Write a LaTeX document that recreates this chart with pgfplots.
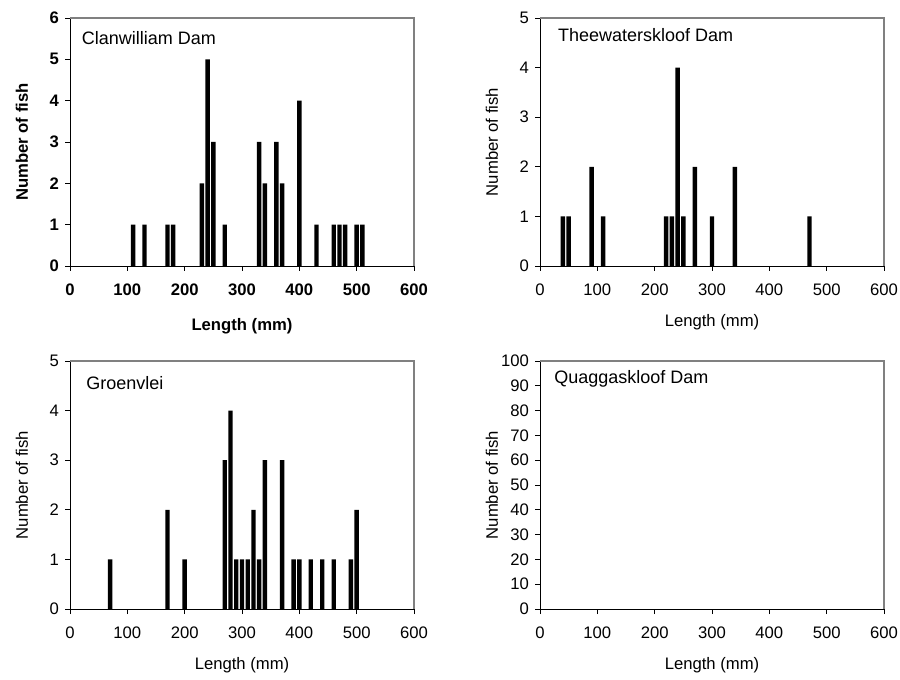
\documentclass[border=0pt]{standalone}
\usepackage{pgfplots}
\pgfplotsset{compat=1.18}
\usepackage{fontspec}
\setmainfont{Liberation Sans}
\definecolor{frame}{RGB}{128,128,128}
\tikzset{
  pname/.style={anchor=west, inner sep=0pt, font=\fontsize{13.5}{15}\selectfont},
  bars/.style={fill=black, draw=none},
}
\pgfplotsset{
  panel/.style={
    scale only axis, width=258pt, height=186pt,
    xmin=0, xmax=600, xtick={0,100,...,600}, ymin=0,
    axis lines=left, axis line style={-, black},
    tick align=outside, major tick length=3.75pt,
    tick style={black, line width=0.6pt},
    /pgf/number format/assume math mode=true,
    ticklabel style={font=\fontsize{12.5}{14}\selectfont},
    xticklabel style={yshift=-6pt},
    yticklabel style={xshift=-1pt},
    ybar, bar width=3.3pt,
    clip=false,
  },
}
\newcommand{\frameTR}{\draw[frame, line width=0.8pt] (rel axis cs:0,1) -- (rel axis cs:1,1) -- (rel axis cs:1,0);}
\begin{document}
\begin{tikzpicture}[x=1pt,y=1pt]
\path[use as bounding box] (0,0) rectangle (675,-510);

% Top left: Clanwilliam Dam
\begin{axis}[panel, at={(52.5pt,-199.5pt)}, anchor=south west,
  ymax=6, ytick={0,...,6},
  ticklabel style={font=\fontsize{12.5}{14}\selectfont\bfseries}]
\addplot[bars] coordinates {(110,1) (130,1) (170,1) (180,1) (230,2) (240,5) (250,3) (270,1) (330,3) (340,2) (360,3) (370,2) (400,4) (430,1) (460,1) (470,1) (480,1) (500,1) (510,1)};
\frameTR
\node[pname] at (rel axis cs:0.034,0.919) {Clanwilliam Dam};
\end{axis}

% Top right: Theewaterskloof Dam
\begin{axis}[panel, at={(405pt,-199.5pt)}, anchor=south west,
  ymax=5, ytick={0,...,5}]
\addplot[bars] coordinates {(40,1) (50,1) (90,2) (110,1) (220,1) (230,1) (240,4) (250,1) (270,2) (300,1) (340,2) (470,1)};
\frameTR
\node[pname] at (rel axis cs:0.052,0.931) {Theewaterskloof Dam};
\end{axis}

% Bottom left: Groenvlei
\begin{axis}[panel, at={(52.5pt,-456.75pt)}, anchor=south west,
  ymax=5, ytick={0,...,5}]
\addplot[bars] coordinates {(70,1) (170,2) (200,1) (270,3) (280,4) (290,1) (300,1) (310,1) (320,2) (330,1) (340,3) (370,3) (390,1) (400,1) (420,1) (440,1) (460,1) (490,1) (500,2)};
\frameTR
\node[pname] at (rel axis cs:0.047,0.911) {Groenvlei};
\end{axis}

% Bottom right: Quaggaskloof Dam
\begin{axis}[panel, at={(405pt,-456.75pt)}, anchor=south west,
  ymax=100, ytick={0,10,...,100}]
\frameTR
\node[pname] at (rel axis cs:0.041,0.927) {Quaggaskloof Dam};
\end{axis}

% Axis labels
\node[rotate=90, font=\fontsize{12.5}{14}\selectfont\bfseries] at (16.5,-106.5) {Number of fish};
\node[font=\fontsize{12.5}{14}\selectfont\bfseries] at (181.5,-244.5) {Length (mm)};
\node[rotate=90, font=\fontsize{12.5}{14}\selectfont] at (369,-106.5) {Number of fish};
\node[font=\fontsize{12.5}{14}\selectfont] at (534,-241.5) {Length (mm)};
\node[rotate=90, font=\fontsize{12.5}{14}\selectfont] at (16.5,-363.75) {Number of fish};
\node[font=\fontsize{12.5}{14}\selectfont] at (181.5,-498.75) {Length (mm)};
\node[rotate=90, font=\fontsize{12.5}{14}\selectfont] at (369,-363.75) {Number of fish};
\node[font=\fontsize{12.5}{14}\selectfont] at (534,-498.75) {Length (mm)};
\end{tikzpicture}
\end{document}
